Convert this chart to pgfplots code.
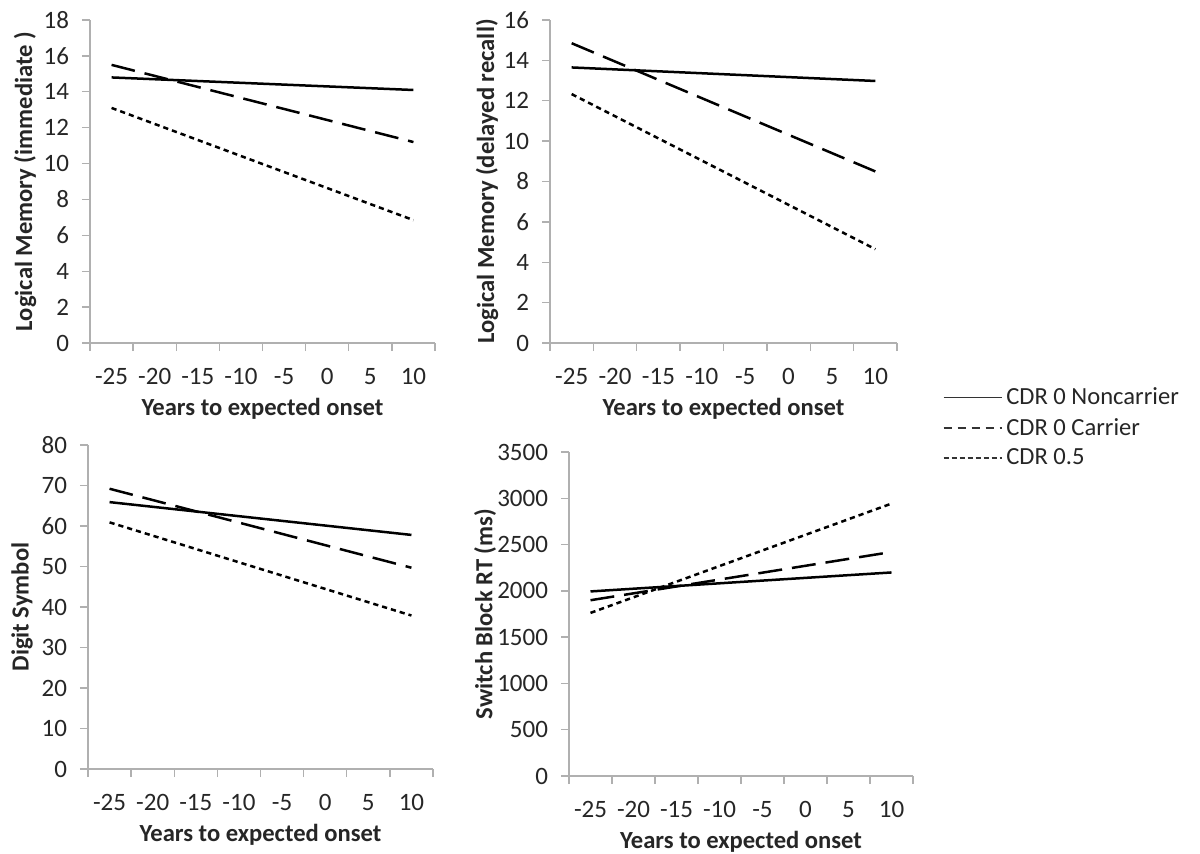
\documentclass[border=0pt]{standalone}
\usepackage{fontspec}
\setmainfont{Carlito}
\usepackage{pgfplots}
\pgfplotsset{compat=1.18}

\definecolor{axisgray}{HTML}{B0B0B0}
\definecolor{txt}{HTML}{262626}

\pgfplotsset{
  panel/.style={
    scale only axis,
    anchor=south west,
    axis x line*=bottom,
    axis y line*=left,
    axis line style={axisgray, line width=0.7pt},
    xmin=-27.5, xmax=12.5,
    ymin=0,
    xtick={-25,-20,-15,-10,-5,0,5,10},
    xticklabels={-25,-20,-15,-10,-5,0,5,10},
    major x tick style={draw=none},
    minor xtick={-27.5,-22.5,-17.5,-12.5,-7.5,-2.5,2.5,7.5,12.5},
    minor x tick style={axisgray, line width=0.7pt},
    minor tick length=4pt,
    major tick length=4pt,
    ytick style={axisgray, line width=0.7pt},
    tick align=outside,
    /pgf/number format/assume math mode=true,
    /pgf/number format/1000 sep={},
    tick label style={font=\fontsize{12.5}{14}\selectfont, text=txt},
    xticklabel style={yshift=-5pt},
    yticklabel style={xshift=-3pt},
    label style={font=\fontsize{12.3}{14}\selectfont\bfseries, text=txt},
    xlabel={Years to expected onset},
    xlabel style={at={(axis description cs:0.5,0)}, anchor=center, yshift=-33pt},
    ylabel style={at={(axis description cs:0,0.5)}, anchor=center},
    clip=false,
  },
  s1/.style={black, line width=1.25pt},
  s2/.style={black, line width=1.25pt, dash pattern=on 12pt off 5pt},
  s3/.style={black, line width=1.25pt, dash pattern=on 2.6pt off 2pt},
}

\begin{document}
\begin{tikzpicture}
\useasboundingbox (0,0) rectangle (600pt,-426.5pt);

% top left
\begin{axis}[panel, at={(45pt,-171.5pt)}, width=172.5pt, height=161.5pt,
  ymax=18, ytick={0,2,...,18},
  ylabel={Logical Memory (immediate )},
  ylabel style={yshift=32.5pt}]
  \addplot[s1] coordinates {(-25,14.8) (10,14.1)};
  \addplot[s2] coordinates {(-25,15.5) (10,11.2)};
  \addplot[s3] coordinates {(-25,13.1) (10,6.85)};
\end{axis}

% top right
\begin{axis}[panel, at={(275pt,-171.5pt)}, width=173.5pt, height=161.5pt,
  ymax=16, ytick={0,2,...,16},
  ylabel={Logical Memory (delayed recall)},
  ylabel style={yshift=31.5pt},
  legend style={at={(axis description cs:1.131,-0.125)}, anchor=north west,
    draw=none, fill=none, font=\fontsize{12.3}{14}\selectfont, text=txt,
    row sep=1.2pt, inner sep=0pt},
  legend cell align=left,
  legend image code/.code={\draw[#1] (0pt,0pt) -- (29pt,0pt);}]
  \addplot[s1, forget plot] coordinates {(-25,13.65) (10,12.98)};
  \addplot[s2, forget plot] coordinates {(-25,14.85) (10,8.5)};
  \addplot[s3, forget plot] coordinates {(-25,12.33) (10,4.65)};
  \addlegendimage{black!80, line width=0.7pt}
  \addlegendentry{CDR 0 Noncarrier}
  \addlegendimage{black!80, line width=0.7pt, dash pattern=on 4pt off 3pt}
  \addlegendentry{CDR 0 Carrier}
  \addlegendimage{black!80, line width=0.7pt, dash pattern=on 2.5pt off 1.5pt}
  \addlegendentry{CDR 0.5}
\end{axis}

% bottom left
\begin{axis}[panel, at={(44pt,-384.5pt)}, width=172.5pt, height=162pt,
  ymax=80, ytick={0,10,...,80},
  ylabel={Digit Symbol},
  ylabel style={yshift=33pt}]
  \addplot[s1] coordinates {(-25,65.9) (10,57.8)};
  \addplot[s2] coordinates {(-25,69.2) (10,49.7)};
  \addplot[s3] coordinates {(-25,60.9) (10,37.9)};
\end{axis}

% bottom right
\begin{axis}[panel, at={(284.5pt,-388pt)}, width=172pt, height=162pt,
  ymax=3500, ytick={0,500,...,3500},
  ylabel={Switch Block RT (ms)},
  ylabel style={yshift=42pt}]
  \addplot[s1] coordinates {(-25,1994) (10,2199)};
  \addplot[s2] coordinates {(-25,1899) (10,2420)};
  \addplot[s3] coordinates {(-25,1762) (10,2943)};
\end{axis}
\end{tikzpicture}
\end{document}
